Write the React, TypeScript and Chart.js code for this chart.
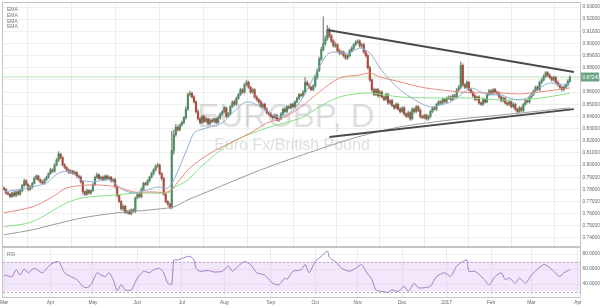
import React, { useEffect, useRef } from 'react';
import { Chart, registerables } from 'chart.js';

Chart.register(...registerables);

// ---------- axis data ----------
const monthTicks = [0, 23, 44, 66, 88, 109, 132, 154, 175, 197, 219, 241, 261, 284];
const monthLabels = ['Mar', 'Apr', 'May', 'Jun', 'Jul', 'Aug', 'Sep', 'Oct', 'Nov', 'Dec', '2017', 'Feb', 'Mar', 'Apr'];
const priceTicks = [0.74, 0.75, 0.76, 0.77, 0.78, 0.79, 0.8, 0.81, 0.82, 0.83, 0.84, 0.85, 0.86, 0.87, 0.88, 0.89, 0.9, 0.91, 0.92, 0.93];
const rsiTicks = [40, 60, 80];
const rsiBand = [30, 70];
const lastPrice = 0.8724;
const lastPriceLabel = '0.87240';
const emaLabels = ['EMA', 'EMA', 'EMA', 'EMA'];

// ---------- candles (prices in 1/10000) ----------
const firstOpen = 7810;
const closes = [
  7800, 7770, 7760, 7740, 7770, 7750, 7780, 7760, 7790, 7830,
  7870, 7840, 7800, 7820, 7850, 7890, 7910, 7880, 7860, 7850,
  7880, 7900, 7930, 7960, 7950, 8000, 8040, 8090, 8060, 8000,
  7980, 7960, 7940, 7950, 7930, 7940, 7910, 7900, 7860, 7780,
  7760, 7790, 7770, 7790, 7840, 7900, 7920, 7890, 7900, 7880,
  7910, 7890, 7900, 7870, 7880, 7820, 7750, 7700, 7640, 7660,
  7610, 7620, 7600, 7630, 7620, 7730, 7760, 7740, 7800, 7850,
  7840, 7870, 7900, 7930, 7960, 7990, 8000, 7930, 7890, 7760,
  7700, 7680, 7650, 8120, 8250, 8310, 8290, 8330, 8350, 8390,
  8460, 8580, 8590, 8560, 8520, 8440, 8380, 8350, 8400, 8360,
  8380, 8340, 8370, 8360, 8380, 8350, 8390, 8420, 8440, 8470,
  8400, 8420, 8480, 8520, 8500, 8550, 8580, 8620, 8600, 8660,
  8680, 8640, 8600, 8620, 8560, 8540, 8520, 8480, 8500, 8460,
  8430, 8420, 8400, 8390, 8410, 8370, 8380, 8420, 8460, 8440,
  8480, 8470, 8500, 8480, 8520, 8550, 8580, 8570, 8600, 8680,
  8660, 8640, 8620, 8650, 8720, 8780, 8870, 8950, 9000, 9040,
  9110, 9060, 9020, 8980, 8990, 8940, 8920, 8930, 8900, 8880,
  8900, 8940, 8960, 8990, 9010, 9020, 8980, 8990, 8930, 8900,
  8800, 8700, 8620, 8580, 8620, 8570, 8600, 8560, 8540, 8580,
  8510, 8530, 8490, 8470, 8500, 8460, 8440, 8470, 8420, 8400,
  8430, 8380, 8460, 8440, 8480, 8450, 8400, 8390, 8410, 8380,
  8400, 8440, 8470, 8460, 8500, 8520, 8510, 8540, 8520, 8550,
  8560, 8540, 8570, 8560, 8620, 8640, 8820, 8660, 8640, 8680,
  8620, 8600, 8570, 8540, 8560, 8510, 8500, 8540, 8520, 8580,
  8610, 8590, 8620, 8600, 8590, 8560, 8530, 8550, 8510, 8500,
  8520, 8480, 8500, 8460, 8440, 8470, 8450, 8500, 8530, 8520,
  8560, 8580, 8610, 8640, 8620, 8680, 8700, 8730, 8760, 8740,
  8720, 8700, 8720, 8680, 8660, 8640, 8620, 8640, 8660, 8690, 8724,
];
const highExt = [
  10, 8, 12, 6, 9, 14, 7, 10, 8, 12,
  15, 9, 7, 11, 8, 13, 10, 6, 9, 12,
  8, 10, 7, 14, 9, 11, 16, 20, 8, 10,
  12, 7, 9, 10, 8, 13, 6, 9, 11, 10,
  8, 14, 9, 7, 12, 10, 15, 8, 9, 11,
  7, 10, 12, 8, 9, 11, 14, 10, 7, 12,
  9, 8, 13, 10, 11, 7, 9, 12, 15, 10,
  8, 11, 9, 13, 10, 12, 15, 9, 8, 10,
  12, 7, 10, 160, 40, 25, 14, 10, 12, 9,
  20, 15, 18, 10, 12, 8, 14, 10, 9, 11,
  13, 8, 10, 12, 9, 11, 14, 10, 8, 12,
  9, 13, 10, 8, 15, 11, 9, 12, 10, 14,
  18, 10, 9, 12, 8, 11, 10, 13, 9, 10,
  12, 8, 11, 9, 14, 10, 8, 12, 9, 11,
  10, 13, 8, 11, 9, 12, 10, 8, 14, 40,
  12, 10, 9, 11, 15, 12, 18, 20, 220, 25,
  40, 20, 15, 12, 18, 10, 14, 11, 9, 13,
  10, 12, 15, 9, 14, 12, 10, 11, 13, 9,
  12, 15, 10, 14, 9, 11, 13, 10, 8, 12,
  10, 9, 12, 8, 11, 10, 13, 9, 12, 10,
  14, 9, 11, 10, 12, 8, 13, 10, 9, 11,
  10, 12, 9, 11, 8, 13, 10, 12, 9, 11,
  10, 8, 12, 14, 10, 15, 30, 12, 10, 14,
  9, 11, 10, 13, 8, 12, 10, 14, 9, 11,
  12, 10, 8, 11, 9, 13, 10, 12, 8, 10,
  11, 9, 12, 10, 8, 13, 10, 9, 12, 11,
  10, 12, 9, 11, 14, 10, 12, 15, 10, 9,
  11, 10, 12, 9, 13, 10, 8, 11, 10, 12, 8,
];
const lowExt = [
  9, 12, 8, 11, 7, 10, 13, 8, 9, 11,
  8, 10, 12, 9, 13, 7, 10, 11, 8, 12,
  10, 9, 11, 8, 12, 10, 9, 13, 10, 8,
  11, 9, 12, 10, 8, 11, 14, 9, 10, 20,
  12, 9, 10, 11, 8, 10, 12, 9, 11, 10,
  9, 12, 8, 10, 11, 9, 13, 10, 12, 15,
  10, 12, 9, 11, 10, 14, 9, 10, 12, 8,
  10, 9, 11, 8, 12, 10, 9, 11, 13, 10,
  9, 12, 10, 10, 30, 15, 12, 10, 11, 9,
  12, 10, 13, 9, 11, 14, 10, 12, 9, 11,
  10, 12, 9, 11, 13, 10, 8, 12, 10, 9,
  12, 10, 11, 9, 13, 10, 12, 9, 11, 10,
  11, 10, 12, 9, 10, 13, 11, 9, 12, 10,
  10, 12, 9, 14, 11, 10, 12, 9, 10, 11,
  12, 9, 11, 10, 13, 10, 12, 9, 11, 10,
  10, 12, 9, 11, 10, 13, 12, 10, 11, 15,
  15, 12, 14, 10, 13, 11, 12, 10, 14, 11,
  12, 10, 11, 13, 9, 12, 10, 14, 11, 12,
  10, 15, 18, 12, 10, 13, 11, 9, 12, 10,
  11, 13, 10, 12, 9, 11, 14, 10, 12, 11,
  10, 12, 9, 13, 11, 10, 12, 9, 11, 10,
  12, 10, 11, 9, 13, 10, 12, 11, 9, 10,
  11, 12, 10, 9, 12, 11, 13, 14, 12, 10,
  12, 10, 13, 11, 9, 12, 10, 11, 13, 10,
  10, 12, 11, 9, 13, 10, 12, 11, 10, 12,
  11, 10, 12, 13, 15, 10, 12, 11, 9, 10,
  12, 11, 10, 13, 9, 11, 12, 10, 11, 13,
  10, 12, 11, 9, 12, 10, 13, 11, 10, 12, 10,
];

// ---------- moving averages [bar index, price/10000] ----------
const emaBlue = [[0, 7780], [14, 7820], [21, 7853], [27, 7935], [33, 7944], [38, 7878], [44, 7862], [52, 7878], [59, 7796], [64, 7771], [71, 7796], [76, 7820], [81, 7812], [84, 7878], [91, 8149], [94, 8264], [97, 8289], [102, 8314], [108, 8346], [113, 8429], [120, 8519], [128, 8470], [135, 8400], [142, 8437], [148, 8560], [156, 8807], [161, 8922], [171, 8922], [176, 8963], [181, 8922], [186, 8799], [191, 8700], [196, 8618], [201, 8560], [206, 8511], [211, 8478], [216, 8494], [221, 8519], [226, 8577], [231, 8634], [236, 8601], [241, 8577], [246, 8577], [250, 8552], [255, 8536], [260, 8560], [265, 8634], [270, 8675], [275, 8659], [280, 8667]];
const emaRed = [[0, 7607], [14, 7656], [24, 7738], [31, 7812], [44, 7837], [56, 7820], [64, 7779], [72, 7779], [81, 7779], [84, 7820], [91, 7960], [97, 8042], [105, 8125], [122, 8264], [130, 8346], [138, 8388], [147, 8478], [156, 8601], [166, 8716], [176, 8741], [181, 8757], [186, 8725], [196, 8684], [206, 8642], [216, 8618], [226, 8601], [236, 8593], [246, 8593], [255, 8585], [265, 8601], [280, 8634]];
const emaGreen = [[0, 7492], [14, 7533], [31, 7689], [39, 7730], [56, 7755], [67, 7771], [81, 7771], [84, 7812], [91, 7878], [97, 7980], [113, 8190], [130, 8305], [147, 8388], [156, 8478], [166, 8560], [180, 8593], [196, 8560], [212, 8552], [229, 8552], [246, 8536], [262, 8544], [280, 8590]];
const emaGray = [[0, 7426], [14, 7467], [24, 7508], [39, 7566], [56, 7607], [72, 7631], [84, 7656], [91, 7714], [97, 7755], [127, 7960], [155, 8125], [175, 8231], [196, 8314], [221, 8371], [246, 8412], [280, 8470]];

// ---------- trend lines [bar index, price] ----------
const upperTrend = [[160, 0.911], [282, 0.8765]];
const lowerTrend = [[161, 0.823], [282, 0.846]];

// ---------- RSI [bar index, value] ----------
const rsi = [[0, 52], [4, 50], [6, 59], [8, 52], [10, 60], [12, 55], [15, 61], [19, 55], [23, 66], [27, 70], [30, 55], [33, 50], [36, 46], [39, 37], [41, 35], [43, 39], [46, 55], [48, 52], [50, 50], [52, 55], [54, 46], [56, 31], [58, 39], [60, 32], [63, 32], [66, 48], [69, 57], [72, 55], [74, 59], [77, 61], [79, 55], [81, 41], [83, 40], [84, 72], [86, 72], [89, 75], [92, 77], [94, 72], [95, 61], [97, 57], [101, 58], [104, 56], [108, 57], [111, 64], [113, 57], [116, 64], [119, 70], [122, 66], [125, 55], [129, 52], [133, 41], [136, 39], [139, 48], [140, 46], [143, 57], [147, 59], [149, 66], [151, 55], [154, 70], [157, 77], [160, 84], [161, 75], [164, 70], [167, 61], [171, 57], [174, 61], [177, 66], [179, 57], [182, 46], [184, 32], [187, 30], [190, 29], [192, 32], [195, 30], [198, 37], [200, 30], [203, 41], [205, 35], [208, 35], [211, 37], [214, 50], [218, 55], [221, 50], [224, 64], [227, 70], [229, 72], [230, 57], [233, 57], [237, 48], [240, 39], [243, 50], [246, 55], [248, 46], [250, 48], [253, 41], [255, 48], [258, 41], [261, 52], [264, 60], [267, 66], [269, 64], [272, 57], [275, 50], [277, 55], [280, 59]];

// ---------- styling ----------
const FONT = '"Liberation Sans", Arial, "DejaVu Sans", sans-serif';
const X_MIN = -0.5;
const X_MAX = 285;
const AXIS_W = 20;
const UP = '#4e8d64';
const DOWN = '#b04a3a';
const TICK_FONT = 4.8;

const toPts = (arr: number[][], scale = 1) => arr.map(([x, y]) => ({ x, y: y * scale }));

const mainDecor = {
  id: 'mainDecor',
  beforeDatasetsDraw(chart: any) {
    const ctx = chart.ctx;
    ctx.save();
    ctx.fillStyle = 'rgba(130,130,130,0.26)';
    ctx.textAlign = 'center';
    ctx.textBaseline = 'alphabetic';
    ctx.font = `33px ${FONT}`;
    ctx.fillText('EURGBP, D', 286, 127);
    ctx.font = `16px ${FONT}`;
    ctx.fillText('Euro Fx/British Pound', 292, 150);
    ctx.restore();
  },
  afterDraw(chart: any) {
    const { ctx, chartArea: a } = chart;
    ctx.save();
    ctx.strokeStyle = '#c4c4c4';
    ctx.lineWidth = 1;
    ctx.strokeRect(Math.round(a.left) - 0.5, Math.round(a.top) - 0.5, Math.round(a.right - a.left) + 1, Math.round(a.bottom - a.top) + 1);
    ctx.fillStyle = '#777';
    ctx.font = `5px ${FONT}`;
    ctx.textAlign = 'left';
    ctx.textBaseline = 'middle';
    emaLabels.forEach((t, k) => ctx.fillText(t, a.left + 4, a.top + 7 + k * 5.6));
    const py = chart.scales.y.getPixelForValue(lastPrice);
    ctx.fillStyle = '#6ba583';
    ctx.fillRect(a.right + 1, py - 4.5, AXIS_W - 2, 9);
    ctx.fillStyle = '#ffffff';
    ctx.font = `${TICK_FONT}px ${FONT}`;
    ctx.fillText(lastPriceLabel, a.right + 2.5, py + 0.5);
    ctx.restore();
  },
};

const rsiDecor = {
  id: 'rsiDecor',
  beforeDatasetsDraw(chart: any) {
    const { ctx, chartArea: a, scales } = chart;
    const y70 = scales.y.getPixelForValue(rsiBand[1]);
    const y30 = scales.y.getPixelForValue(rsiBand[0]);
    ctx.save();
    ctx.fillStyle = 'rgba(226,196,245,0.4)';
    ctx.fillRect(a.left, y70, a.right - a.left, y30 - y70);
    ctx.strokeStyle = '#b9a8c2';
    ctx.setLineDash([2, 2]);
    ctx.lineWidth = 1;
    [y70, y30].forEach((y) => {
      ctx.beginPath();
      ctx.moveTo(a.left, Math.round(y) + 0.5);
      ctx.lineTo(a.right, Math.round(y) + 0.5);
      ctx.stroke();
    });
    ctx.restore();
  },
  afterDraw(chart: any) {
    const { ctx, chartArea: a } = chart;
    ctx.save();
    ctx.strokeStyle = '#c4c4c4';
    ctx.lineWidth = 1;
    ctx.strokeRect(Math.round(a.left) - 0.5, Math.round(a.top) - 0.5, Math.round(a.right - a.left) + 1, Math.round(a.bottom - a.top) + 1);
    ctx.fillStyle = '#777';
    ctx.font = `5px ${FONT}`;
    ctx.textAlign = 'left';
    ctx.textBaseline = 'middle';
    ctx.fillText('RSI', a.left + 4, a.top + 7);
    ctx.restore();
  },
};

const monthAfterBuild = (s: any) => {
  s.ticks = monthTicks.map((v) => ({ value: v }));
};

export default function App() {
  const mainRef = useRef<HTMLCanvasElement>(null);
  const rsiRef = useRef<HTMLCanvasElement>(null);

  useEffect(() => {
    Chart.defaults.font.family = FONT;
    const P = (v: number) => v / 10000;
    const candles = closes.map((c, i) => {
      const o = i === 0 ? firstOpen : closes[i - 1];
      const h = Math.max(o, c) + highExt[i];
      const l = Math.min(o, c) - lowExt[i];
      return { i, o: P(o), c: P(c), h: P(h), l: P(l) };
    });

    const line = (data: any[], color: string, width: number, order: number) => ({
      type: 'line',
      data,
      borderColor: color,
      borderWidth: width,
      pointRadius: 0,
      tension: 0.3,
      order,
    });

    const main = new Chart(mainRef.current as HTMLCanvasElement, {
      type: 'line',
      data: {
        datasets: [
          { ...line(toPts(upperTrend), '#4a4a4a', 2, 0), tension: 0 },
          { ...line(toPts(lowerTrend), '#4a4a4a', 2, 0), tension: 0 },
          line(toPts(emaBlue, 1e-4), '#8fb0d2', 1, 1),
          line(toPts(emaRed, 1e-4), '#e8897c', 1, 1),
          line(toPts(emaGreen, 1e-4), '#86df86', 1, 1),
          line(toPts(emaGray, 1e-4), '#9c9c94', 1, 1),
          {
            type: 'bar',
            data: candles.map((k) => ({ x: k.i, y: k.o === k.c ? [k.o - 0.00004, k.o + 0.00004] : [k.o, k.c] })),
            backgroundColor: candles.map((k) => (k.c >= k.o ? UP : DOWN)),
            barThickness: 1.5,
            grouped: false,
            order: 2,
          },
          {
            type: 'bar',
            data: candles.map((k) => ({ x: k.i, y: [k.l, k.h] })),
            backgroundColor: '#8f8f8f',
            barThickness: 0.7,
            grouped: false,
            order: 3,
          },
          { ...line([{ x: X_MIN, y: lastPrice }, { x: X_MAX, y: lastPrice }], '#b6e2b6', 1, 4), tension: 0 },
        ] as any,
      },
      options: {
        animation: false,
        responsive: false,
        maintainAspectRatio: false,
        layout: { padding: { left: 3, top: 3, right: 0, bottom: 1 } },
        plugins: { legend: { display: false }, tooltip: { enabled: false } },
        scales: {
          x: {
            type: 'linear',
            min: X_MIN,
            max: X_MAX,
            offset: false,
            afterBuildTicks: monthAfterBuild,
            ticks: { display: false },
            grid: { color: '#ececec', drawTicks: false },
            border: { display: false },
            afterFit: (s: any) => {
              s.height = 0;
              s.paddingLeft = 0;
              s.paddingRight = 0;
            },
          },
          y: {
            position: 'right',
            min: 0.7334,
            max: 0.9333,
            afterBuildTicks: (s: any) => {
              s.ticks = priceTicks.map((v) => ({ value: v }));
            },
            ticks: {
              font: { size: TICK_FONT },
              color: '#666',
              padding: 2.5,
              callback: (v: any) => Number(v).toFixed(5),
            },
            grid: { color: '#efefef', drawTicks: false },
            border: { display: true, color: '#bdbdbd' },
            afterFit: (s: any) => {
              s.width = AXIS_W;
              s.paddingTop = 0;
              s.paddingBottom = 0;
            },
          },
        },
      } as any,
      plugins: [mainDecor],
    });

    const rsiChart = new Chart(rsiRef.current as HTMLCanvasElement, {
      type: 'line',
      data: {
        datasets: [
          {
            data: toPts(rsi),
            borderColor: '#a47cc4',
            borderWidth: 1,
            pointRadius: 0,
            tension: 0.2,
          },
        ],
      },
      options: {
        animation: false,
        responsive: false,
        maintainAspectRatio: false,
        layout: { padding: { left: 3, top: 1, right: 0, bottom: 0 } },
        plugins: { legend: { display: false }, tooltip: { enabled: false } },
        scales: {
          x: {
            type: 'linear',
            min: X_MIN,
            max: X_MAX,
            offset: false,
            afterBuildTicks: monthAfterBuild,
            ticks: {
              font: { size: TICK_FONT },
              color: '#666',
              padding: 3,
              autoSkip: false,
              maxRotation: 0,
              callback: (v: any) => monthLabels[monthTicks.indexOf(Number(v))] ?? '',
            },
            grid: { color: '#ececec', drawTicks: false },
            border: { display: false },
            afterFit: (s: any) => {
              s.height = 11;
              s.paddingLeft = 0;
              s.paddingRight = 0;
            },
          },
          y: {
            position: 'right',
            min: 22.7,
            max: 88,
            afterBuildTicks: (s: any) => {
              s.ticks = rsiTicks.map((v) => ({ value: v }));
            },
            ticks: {
              font: { size: TICK_FONT },
              color: '#666',
              padding: 2.5,
              callback: (v: any) => Number(v).toFixed(4),
            },
            grid: { color: '#efefef', drawTicks: false },
            border: { display: true, color: '#bdbdbd' },
            afterFit: (s: any) => {
              s.width = AXIS_W;
              s.paddingTop = 0;
              s.paddingBottom = 0;
            },
          },
        },
      } as any,
      plugins: [rsiDecor],
    });

    return () => {
      main.destroy();
      rsiChart.destroy();
    };
  }, []);

  return (
    <div style={{ position: 'absolute', left: 0, top: 0, width: 600, height: 308, background: '#ffffff', overflow: 'hidden' }}>
      <canvas ref={mainRef} width={600} height={247} style={{ position: 'absolute', left: 0, top: 0, width: 600, height: 247 }} />
      <canvas ref={rsiRef} width={600} height={61} style={{ position: 'absolute', left: 0, top: 247, width: 600, height: 61 }} />
    </div>
  );
}
